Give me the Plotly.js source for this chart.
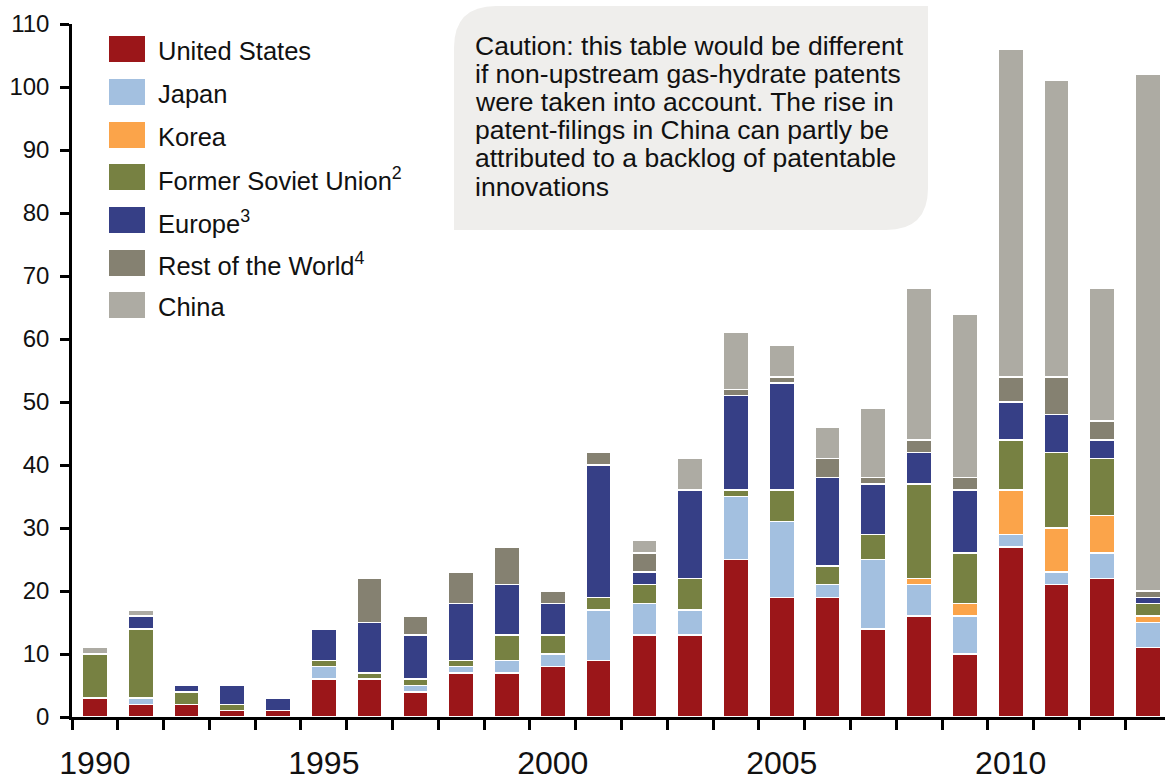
<!DOCTYPE html>
<html>
<head>
<meta charset="utf-8">
<script src="https://cdn.plot.ly/plotly-3.0.1.min.js"></script>
<style>
html,body{margin:0;padding:0;background:#fff;overflow:hidden}
#chart{width:1165px;height:779px}
</style>
</head>
<body>
<div id="chart"></div>
<script>
// ---- data ----
const years = [1990,1991,1992,1993,1994,1995,1996,1997,1998,1999,2000,2001,2002,2003,2004,2005,2006,2007,2008,2009,2010,2011,2012,2013];
const unitedStates = [3,2,2,1,1,6,6,4,7,7,8,9,13,13,25,19,19,14,16,10,27,21,22,11];
const japan        = [0,1,0,0,0,2,0,1,1,2,2,8,5,4,10,12,2,11,5,6,2,2,4,4];
const korea        = [0,0,0,0,0,0,0,0,0,0,0,0,0,0,0,0,0,0,1,2,7,7,6,1];
const formerSoviet = [7,11,2,1,0,1,1,1,1,4,3,2,3,5,1,5,3,4,15,8,8,12,9,2];
const europe       = [0,2,1,3,2,5,8,7,9,8,5,21,2,14,15,17,14,8,5,10,6,6,3,1];
const restOfWorld  = [0,0,0,0,0,0,7,3,5,6,2,2,3,0,1,1,3,1,2,2,4,6,3,1];
const china        = [1,1,0,0,0,0,0,0,0,0,0,0,2,5,9,5,5,11,24,26,52,47,21,82];

const seriesNames = ["United States","Japan","Korea","Former Soviet Union<sup>2</sup>","Europe<sup>3</sup>","Rest of the World<sup>4</sup>","China"];
const seriesValues = [unitedStates, japan, korea, formerSoviet, europe, restOfWorld, china];
const seriesColors = ["#9b1619","#a3c0e0","#fba44a","#778142","#363f86","#858171","#adaba3"];

const xTickVals = [1990,1995,2000,2005,2010];
const xTickText = ["1990","1995","2000","2005","2010"];

const cautionLines = [
  "Caution: this table would be different",
  "if non-upstream gas-hydrate patents",
  "were taken into account. The rise in",
  "patent-filings in China can partly be",
  "attributed to a backlog of patentable",
  "innovations"
];

// ---- geometry helpers (pixel -> paper) ----
const W = 1165, H = 779;
const M = {l:72, r:0, t:24, b:62};
const PW = W - M.l - M.r, PH = H - M.t - M.b;
const px = p => (p - M.l) / PW;
const py = p => (H - M.b - p) / PH;

const FONT = "Liberation Sans, Arial, Helvetica, sans-serif";

const traces = seriesValues.map((vals, i) => ({
  type: "bar",
  x: years,
  y: vals,
  name: seriesNames[i],
  marker: {color: seriesColors[i], line: {color: "#ffffff", width: 1.5}},
  showlegend: false,
  hoverinfo: "x+y+name"
}));

const shapes = [];
const annotations = [];

// caution box with rounded top-left and bottom-right corners
(function(){
  const x0 = px(454), x1 = px(928), yt = py(6), yb = py(230);
  const rx = 42 / PW, ry = 42 / PH;
  shapes.push({
    type: "path", xref: "paper", yref: "paper", layer: "above",
    path: `M ${x0},${yb} L ${x0},${yt-ry} Q ${x0},${yt} ${x0+rx},${yt} L ${x1},${yt} L ${x1},${yb+ry} Q ${x1},${yb} ${x1-rx},${yb} Z`,
    fillcolor: "#efeeec", line: {width: 0}
  });
})();

const cautionY = [45.5, 73.8, 101.8, 130.2, 158.4, 186.8];
cautionLines.forEach((t, i) => {
  annotations.push({
    xref: "paper", yref: "paper", x: px(473), y: py(cautionY[i]),
    xanchor: "left", yanchor: "middle", showarrow: false,
    text: t, align: "left",
    font: {family: FONT, size: 26.5, color: "#111111"}
  });
});

// custom legend
const swatchY = [49, 92, 135, 177, 220, 263, 305];
const labelY  = [51, 93.8, 136.8, 178.8, 221.8, 264.4, 306.8];
seriesNames.forEach((n, i) => {
  shapes.push({
    type: "rect", xref: "paper", yref: "paper", layer: "above",
    x0: px(109), x1: px(145), y0: py(swatchY[i] + 13), y1: py(swatchY[i] - 13),
    fillcolor: seriesColors[i], line: {width: 0}
  });
  annotations.push({
    xref: "paper", yref: "paper", x: px(156), y: py(labelY[i]),
    xanchor: "left", yanchor: "middle", showarrow: false,
    text: n, align: "left",
    font: {family: FONT, size: 25.5, color: "#111111"}
  });
});

const layout = {
  width: W, height: H,
  margin: M,
  paper_bgcolor: "#ffffff",
  plot_bgcolor: "rgba(0,0,0,0)",
  barmode: "stack",
  bargap: 0.45,
  font: {family: FONT, color: "#111111"},
  xaxis: {
    range: [1989.5, 2013.37],
    tickmode: "array", tickvals: xTickVals, ticktext: xTickText,
    ticks: "", showgrid: false, zeroline: false,
    showline: true, linecolor: "#000000", linewidth: 2.5,
    tickfont: {family: FONT, size: 32, color: "#111111"},
    ticklabelstandoff: 16,
    minor: {tickmode: "linear", tick0: 1989.5, dtick: 1, ticks: "outside", ticklen: 10, tickwidth: 2.5, tickcolor: "#000000", showgrid: false}
  },
  yaxis: {
    range: [0, 110],
    tickmode: "linear", tick0: 0, dtick: 10,
    ticks: "outside", ticklen: 9, tickwidth: 2.5, tickcolor: "#000000",
    showgrid: false, zeroline: false,
    showline: true, linecolor: "#000000", linewidth: 2.5,
    tickfont: {family: FONT, size: 24, color: "#111111"},
    ticklabelstandoff: 6
  },
  shapes: shapes,
  annotations: annotations
};

Plotly.newPlot("chart", traces, layout, {displayModeBar: false, responsive: false});
</script>
</body>
</html>
